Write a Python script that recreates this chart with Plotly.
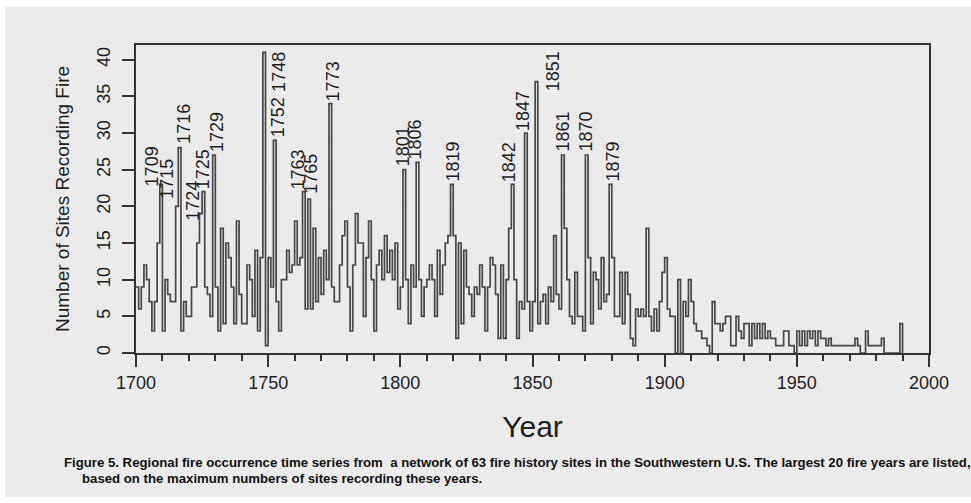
import plotly.graph_objects as go

# Number of sites (of 63) recording fire in each year, 1700-1990
sites_1700_1749 = [
    9, 6, 9, 12, 10, 7, 3, 7, 15, 23,
    3, 10, 8, 7, 7, 20, 28, 3, 7, 5,
    5, 9, 9, 15, 19, 22, 9, 8, 5, 27,
    9, 3, 17, 4, 15, 13, 9, 4, 18, 8,
    4, 4, 12, 10, 5, 14, 3, 13, 41, 1,
]
sites_1750_1799 = [
    13, 9, 29, 7, 3, 10, 10, 14, 11, 12,
    18, 12, 13, 22, 6, 21, 6, 17, 7, 13,
    8, 14, 10, 34, 9, 7, 7, 12, 16, 18,
    9, 3, 12, 19, 15, 15, 5, 13, 18, 10,
    3, 12, 14, 10, 16, 11, 14, 10, 15, 6,
]
sites_1800_1849 = [
    9, 25, 10, 4, 12, 9, 26, 10, 5, 9,
    10, 12, 10, 5, 14, 8, 12, 15, 16, 23,
    16, 2, 15, 4, 14, 9, 8, 5, 9, 8,
    12, 9, 3, 9, 13, 12, 8, 2, 12, 2,
    10, 17, 23, 10, 2, 7, 6, 30, 7, 3,
]
sites_1850_1899 = [
    7, 37, 4, 7, 8, 4, 9, 7, 16, 8,
    6, 27, 17, 10, 5, 4, 11, 5, 5, 3,
    27, 13, 4, 11, 10, 6, 13, 7, 8, 23,
    13, 5, 5, 11, 4, 11, 8, 2, 1, 6,
    5, 6, 5, 17, 5, 3, 6, 3, 7, 11,
]
sites_1900_1949 = [
    13, 6, 5, 5, 0, 10, 0, 7, 5, 10,
    7, 4, 3, 3, 2, 2, 1, 0, 7, 4,
    4, 3, 4, 5, 5, 1, 1, 5, 3, 2,
    4, 4, 1, 4, 2, 4, 2, 4, 2, 3,
    2, 2, 1, 1, 1, 3, 3, 1, 1, 0,
]
sites_1950_1990 = [
    3, 1, 3, 1, 3, 2, 3, 1, 3, 2,
    2, 1, 2, 1, 1, 1, 1, 1, 1, 1,
    1, 1, 2, 1, 0, 0, 3, 1, 1, 1,
    1, 1, 2, 0, 0, 0, 0, 0, 0, 4,
    0,
]

sites = (sites_1700_1749 + sites_1750_1799 + sites_1800_1849
         + sites_1850_1899 + sites_1900_1949 + sites_1950_1990)
years = list(range(1700, 1700 + len(sites)))

# The 20 largest fire years, labelled on the chart
peak_years = [1709, 1715, 1716, 1724, 1725, 1729, 1748, 1752, 1763, 1765,
              1773, 1801, 1806, 1819, 1842, 1847, 1851, 1861, 1870, 1879]

x_ticks = [1700, 1750, 1800, 1850, 1900, 1950, 2000]
y_ticks = [0, 5, 10, 15, 20, 25, 30, 35, 40]

caption_1 = ("Figure 5. Regional fire occurrence time series from  a network of 63 fire "
             "history sites in the Southwestern U.S. The largest 20 fire years are listed,")
caption_2 = "based on the maximum numbers of sites recording these years."

# ---- layout geometry (pixels) ----
W, H = 971, 503
L, R, T, B = 136, 42, 45, 150
PW, PH = W - L - R, H - T - B

# label nudges (years, sites) so crowded labels do not collide
label_nudge = {
    1709: (-2.9, -0.4), 1715: (-3.3, 0.9), 1716: (2.2, 0.4), 1724: (-2.4, -1.1),
    1725: (0.4, 0.2), 1729: (1.7, 0.3), 1748: (5.8, -5.5), 1752: (1.8, 0.3),
    1763: (-1.6, 0.2), 1765: (0.9, 0.6), 1773: (1.6, 0.2), 1801: (-0.2, 0.4),
    1806: (-0.3, 0.3), 1819: (1.1, 0.3), 1842: (-1.1, 0.2), 1847: (-0.8, 0.2),
    1851: (6.6, -1.5), 1861: (0.4, 0.3), 1870: (0.1, 0.3), 1879: (1.3, 0.2),
}

FONT = "Liberation Sans, Arial, sans-serif"
INK = "#1e1e1e"
LINE = "#474747"
BG = "#ebebeb"


def px_x(px):
    return (px - L) / PW


def px_y(py):
    return (H - B - py) / PH


fig = go.Figure()
fig.add_trace(go.Scatter(
    x=years, y=sites, mode="lines", line_shape="hv",
    line=dict(color=LINE, width=1.7), hoverinfo="x+y", showlegend=False,
))

annotations = []
value_of = dict(zip(years, sites))
for yr in peak_years:
    dx, dy = label_nudge.get(yr, (0, 0))
    annotations.append(dict(
        x=yr + dx, y=value_of[yr] + dy, xref="x", yref="y",
        text=str(yr), textangle=-90, showarrow=False,
        xanchor="center", yanchor="bottom", borderpad=0,
        font=dict(family=FONT, size=18, color=INK),
    ))

annotations.append(dict(
    x=px_x(62), y=px_y(462), xref="paper", yref="paper",
    text="<b>" + caption_1 + "</b>",
    showarrow=False, xanchor="left", yanchor="middle",
    font=dict(family=FONT, size=13.2, color="#111"),
))
annotations.append(dict(
    x=px_x(80), y=px_y(478), xref="paper", yref="paper",
    text="<b>" + caption_2 + "</b>",
    showarrow=False, xanchor="left", yanchor="middle",
    font=dict(family=FONT, size=13.2, color="#111"),
))

shapes = [dict(
    type="rect", xref="paper", yref="paper", layer="below",
    x0=px_x(5), x1=px_x(W + 2), y0=px_y(497), y1=px_y(7),
    fillcolor=BG, line=dict(width=0),
)]

fig.update_layout(
    width=W, height=H,
    margin=dict(l=L, r=R, t=T, b=B, pad=0),
    paper_bgcolor="white", plot_bgcolor="rgba(0,0,0,0)",
    font=dict(family=FONT, color=INK),
    annotations=annotations, shapes=shapes,
    xaxis=dict(
        range=[1700, 2000], tickvals=x_ticks, ticks="outside", ticklen=12,
        tickwidth=1.5, tickcolor="#333", showline=True, linecolor="#333",
        linewidth=2, mirror=True, showgrid=False, zeroline=False,
        tickfont=dict(size=18, color=INK),
        minor=dict(dtick=10, tick0=1700, ticks="outside", ticklen=6,
                   tickwidth=1.5, tickcolor="#333", showgrid=False),
        title=dict(text="Year", font=dict(size=30, color=INK), standoff=24),
    ),
    yaxis=dict(
        range=[0, 42], tickvals=y_ticks, ticks="outside", ticklen=12,
        tickwidth=1.5, tickcolor="#333", tickangle=-90, ticklabelstandoff=5,
        showline=True, linecolor="#333", linewidth=2, mirror=True,
        showgrid=False, zeroline=False,
        tickfont=dict(size=18, color=INK),
        title=dict(text="Number of Sites Recording Fire",
                   font=dict(size=19, color=INK), standoff=19),
    ),
)

fig.write_html("out.html")
